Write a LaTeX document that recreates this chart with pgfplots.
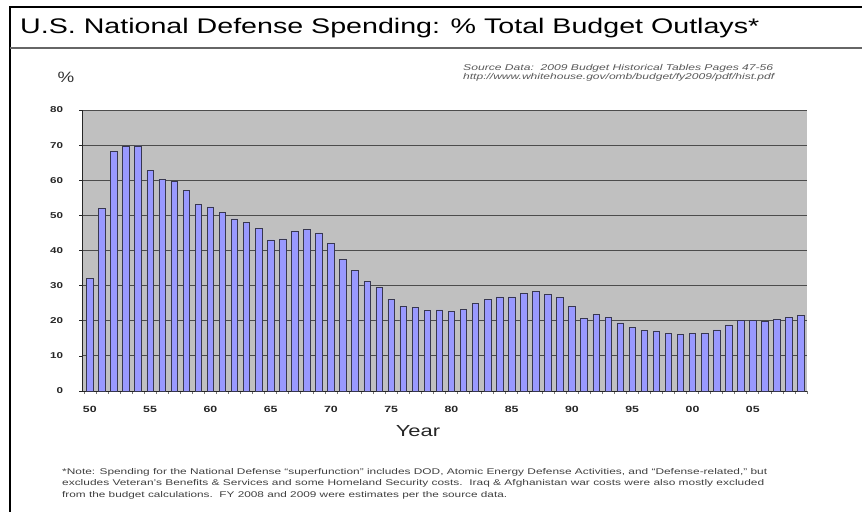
\documentclass[border=0pt]{standalone}
\usepackage{pgfplots}
\pgfplotsset{compat=1.18}
\usepackage{fontspec}
\setmainfont{Liberation Sans}
\definecolor{plotgray}{RGB}{192,192,192}
\definecolor{barfill}{RGB}{153,153,255}
\definecolor{bardraw}{RGB}{55,55,80}
\begin{document}
\begin{tikzpicture}[x=1pt,y=1pt]
\useasboundingbox (0,0) rectangle (862,512);
\fill[white] (0,0) rectangle (862,512);
\draw[black, line width=1.5pt] (10,505) -- (862,505);
\draw[black, line width=1.2pt] (10,505.75) -- (10,0);
\draw[black!60, line width=2pt] (10,464) -- (862,464);
\node[anchor=base west, inner sep=0pt] at (20,478.7) {\resizebox{739pt}{15.3pt}{U.S. National Defense Spending: \% Total Budget Outlays*}};
\node[anchor=base west, inner sep=0pt, text=black!65] at (463,441) {\resizebox{310pt}{6.1pt}{\itshape Source Data:\ \ 2009 Budget Historical Tables Pages 47-56}};
\node[anchor=base west, inner sep=0pt, text=black!65] at (463,432) {\resizebox{311pt}{6.1pt}{\itshape http://www.whitehouse.gov/omb/budget/fy2009/pdf/hist.pdf}};
\node[anchor=base, xscale=1.25, inner sep=0pt, font=\fontsize{15}{15}\selectfont, text=black!80] at (66,429) {\%};
\node[anchor=base, xscale=1.37, inner sep=0pt, font=\fontsize{16}{16}\selectfont, text=black!85] at (418,76) {Year};
\node[anchor=base west, inner sep=0pt, text=black!75] at (62,38) {\resizebox{705pt}{6pt}{*Note: Spending for the National Defense ``superfunction'' includes DOD, Atomic Energy Defense Activities, and ``Defense-related,'' but}};
\node[anchor=base west, inner sep=0pt, text=black!75] at (62,26.5) {\resizebox{702pt}{6pt}{excludes Veteran's Benefits \& Services and some Homeland Security costs.\ \ Iraq \& Afghanistan war costs were also mostly excluded}};
\node[anchor=base west, inner sep=0pt, text=black!75] at (62,15) {\resizebox{445pt}{6pt}{from the budget calculations.\ \ FY 2008 and 2009 were estimates per the source data.}};
\begin{axis}[
  at={(82pt,121pt)}, anchor=south west, scale only axis,
  width=725pt, height=281pt,
  xmin=1949.35, xmax=2009.5, ymin=0, ymax=80,
  axis background/.style={fill=plotgray},
  axis x line*=bottom, axis y line*=left,
  axis line style={black!85, line width=0.8pt},
  ytick={0,10,...,80},
  /pgf/number format/assume math mode=true,
  ymajorgrids, major grid style={black!70, line width=0.8pt},
  xtick={1950,1955,...,2005},
  xticklabels={50,55,60,65,70,75,80,85,90,95,00,05},
  minor xtick={1949.5,1950.5,...,2009.5},
  tick align=outside,
  major tick length=3pt, minor tick length=3pt,
  major x tick style={draw=none},
  minor x tick style={draw=black!55, line width=0.6pt},
  y tick style={draw=black!85, line width=0.6pt},
  yticklabel style={font=\bfseries\fontsize{8.5}{8.5}\selectfont, text=black!85, xshift=-11pt, xscale=1.37},
  xticklabel style={font=\bfseries\fontsize{9}{9}\selectfont, text=black!85, yshift=-9pt, xscale=1.37},
]
\addplot[ybar, bar width=6.5pt, fill=barfill, draw=bardraw, line width=0.6pt] coordinates {
(1950,32.0) (1951,51.9) (1952,68.3) (1953,69.6) (1954,69.8) (1955,62.7) (1956,60.3) (1957,59.6) (1958,57.0) (1959,53.2)
(1960,52.4) (1961,50.8) (1962,49.0) (1963,48.0) (1964,46.4) (1965,43.0) (1966,43.3) (1967,45.6) (1968,46.0) (1969,45.0)
(1970,42.0) (1971,37.5) (1972,34.3) (1973,31.2) (1974,29.6) (1975,26.1) (1976,24.1) (1977,23.8) (1978,22.9) (1979,23.1)
(1980,22.7) (1981,23.2) (1982,25.0) (1983,26.1) (1984,26.8) (1985,26.8) (1986,27.7) (1987,28.3) (1988,27.4) (1989,26.6)
(1990,24.0) (1991,20.7) (1992,21.7) (1993,20.9) (1994,19.4) (1995,18.0) (1996,17.2) (1997,17.1) (1998,16.3) (1999,16.1)
(2000,16.5) (2001,16.5) (2002,17.4) (2003,18.8) (2004,20.0) (2005,20.1) (2006,19.9) (2007,20.3) (2008,20.9) (2009,21.5)
};
\end{axis}
\end{tikzpicture}
\end{document}
